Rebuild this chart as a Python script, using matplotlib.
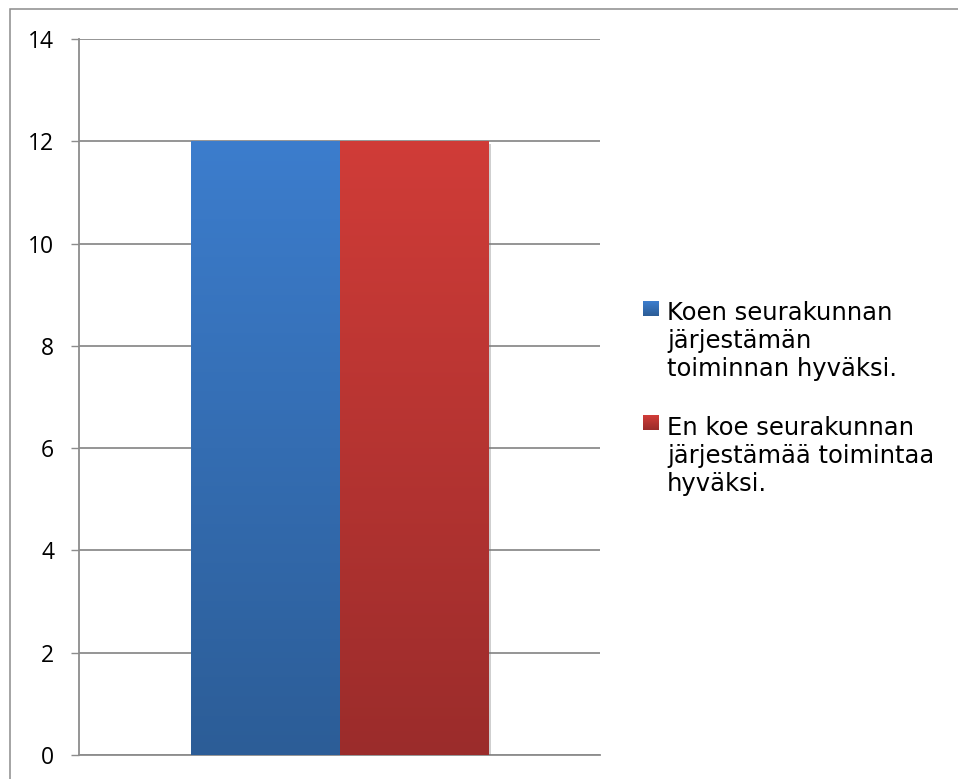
import numpy as np
import matplotlib
matplotlib.use("Agg")
import matplotlib.pyplot as plt
from matplotlib.patches import Rectangle
from matplotlib.colors import LinearSegmentedColormap
import matplotlib.patheffects as pe

# data
series_names = [
    "Koen seurakunnan\njärjestämän\ntoiminnan hyväksi.",
    "En koe seurakunnan\njärjestämää toimintaa\nhyväksi.",
]
values = [12, 12]
y_ticks = [0, 2, 4, 6, 8, 10, 12, 14]
# (top colour, bottom colour) of each bar's gradient
bar_colors = [("#3c7dcd", "#2c5d97"), ("#d03c38", "#9b2c2b")]

W, H = 958, 779
GRAY = "#8c8c8c"

fig = plt.figure(figsize=(W / 100, H / 100), dpi=100)
ax = fig.add_axes([79 / W, 1 - 755 / H, (600 - 79) / W, (755 - 39) / H])

# outer chart border
fig.add_artist(Rectangle((10 / W, -0.1), 2, 1 - 9 / H + 0.1, transform=fig.transFigure,
                         fill=False, ec=GRAY, lw=1.1))

n = len(values)
width = 1 / (n + 1.5)
xs = [(i - (n - 1) / 2) * width for i in range(n)]

for x, v, (top, bot) in zip(xs, values, bar_colors):
    bar = ax.bar(x, v, width=width, color=bot, zorder=3, linewidth=0,
                 path_effects=[pe.SimplePatchShadow(offset=(2, -2), shadow_rgbFace="#777777", alpha=0.35),
                               pe.Normal()])[0]
    cmap = LinearSegmentedColormap.from_list("g", [bot, top])
    grad = np.linspace(0, 1, 256).reshape(-1, 1)
    im = ax.imshow(grad, extent=(x - width / 2, x + width / 2, 0, v), origin="lower",
                   aspect="auto", cmap=cmap, zorder=4, interpolation="bilinear")
    im.set_clip_path(bar)

ax.set_xlim(-0.5, 0.5)
ax.set_ylim(0, 14)
ax.set_yticks(y_ticks)
ax.set_xticks([])
ax.yaxis.grid(True, color=GRAY, lw=1.3, zorder=0)
ax.set_axisbelow(True)
for s in ["top", "right"]:
    ax.spines[s].set_visible(False)
for s in ["left", "bottom"]:
    ax.spines[s].set_color(GRAY)
    ax.spines[s].set_linewidth(1.3)
ax.tick_params(axis="y", length=6, width=1.0, color=GRAY, pad=12, labelsize=16.5,
               labelfontfamily="Open Sans", labelcolor="black")

# legend (square position and baseline of the first text line, in pixels)
legend_squares = [(643, 301), (643, 415)]
legend_baselines = [316.7, 431.7]
line_step = 29.5
for (sx, sy), yb, name, (top, bot) in zip(legend_squares, legend_baselines, series_names, bar_colors):
    cmap = LinearSegmentedColormap.from_list("g", [bot, top])
    fig.figimage(np.linspace(0, 1, 15).reshape(-1, 1) * np.ones((1, 16)), xo=sx, yo=H - sy - 15,
                 cmap=cmap, origin="lower", zorder=5)
    # va="baseline" anchors the last line, so shift down by the extra lines
    last = yb + line_step * (name.count("\n"))
    fig.text(667 / W, 1 - last / H, name, fontsize=17.5, family="DejaVu Sans",
             va="baseline", ha="left", linespacing=1.21)

fig.savefig("out.png", dpi=100)
